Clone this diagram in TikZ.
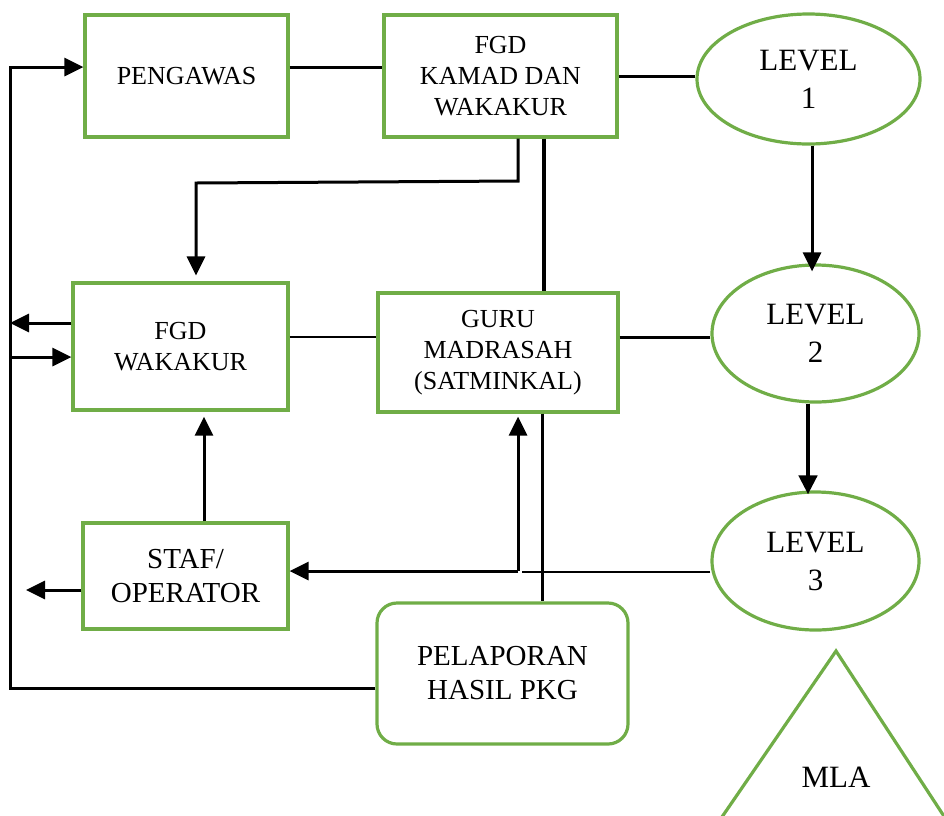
\documentclass[tikz,border=0pt]{standalone}
\usepackage{fontspec}
\setmainfont{Liberation Serif}
\usetikzlibrary{positioning,arrows.meta,shapes.geometric}
\definecolor{leaf}{HTML}{70AD47}
\newcommand{\boxfont}{\fontsize{26}{31}\selectfont}
\newcommand{\bigfont}{\fontsize{29}{34}\selectfont}
\newcommand{\lvfont}{\fontsize{31}{38}\selectfont}

\begin{document}
\begin{tikzpicture}[x=1pt,y=-1pt,
  box/.style={draw=leaf,line width=3.2pt,inner sep=0pt,align=center,font=\boxfont},
  lvl/.style={draw=leaf,line width=3.2pt,ellipse,inner sep=0pt,align=center,font=\lvfont},
  link/.style={line width=3pt},
  thin link/.style={line width=1.4pt},
  heavy link/.style={line width=4.5pt},
  arr/.style={link,-{Triangle[length=19pt,width=18pt]}}]
  \clip (0,0) rectangle (944,815);
  % top row
  \node[box,minimum width=203pt,minimum height=122pt] (peng) at (186.5,76) {PENGAWAS};
  \node[box,minimum width=233pt,minimum height=122pt] (kamad) at (500.5,76) {FGD\\KAMAD DAN\\WAKAKUR};
  \node[lvl,minimum width=223pt,minimum height=130pt] (lv1) at (808.5,79) {LEVEL\\1};
  % middle row
  \node[box,minimum width=215pt,minimum height=127pt] (wakakur) at (180.5,346.5) {FGD\\WAKAKUR};
  \node[box,minimum width=240pt,minimum height=119pt] (guru) at (498,352.5) {GURU\\MADRASAH\\(SATMINKAL)};
  \node[lvl,minimum width=207pt,minimum height=137pt] (lv2) at (815.5,333.5) {LEVEL\\2};
  % bottom
  \node[box,font=\bigfont,minimum width=205pt,minimum height=106pt] (staf) at (185.5,576) {STAF/\\OPERATOR};
  \node[lvl,minimum width=207pt,minimum height=138pt] (lv3) at (815.5,561) {LEVEL\\3};
  \node[box,font=\bigfont,rounded corners=20pt,minimum width=251pt,minimum height=141pt] (lapor) at (502.5,673.5) {PELAPORAN\\HASIL PKG};
  \draw[leaf,line width=3.2pt] (713,830) -- (836,651) -- (953,830);
  \node[font=\lvfont] (mla) at (836,777) {MLA};

  \coordinate (top) at (10,67);
  \coordinate (bot) at (10,688);
  \coordinate (k1) at (518,181);
  \coordinate (k2) at (196,183);
  \coordinate (row2) at (0,337);
  \coordinate (g1) at (518,571);
  \coordinate (out) at (26,590);

  \draw[arr] (lapor.west |- bot) -- (bot) -- (top) -- (peng.west |- top);
  \draw[link] (peng.east |- top) -- (kamad.west |- top);
  \draw[link] (kamad.east) -- (lv1.west |- kamad.east);
  \draw[arr] (kamad.south -| k1) -- (k1) -- (k2) -- ([yshift=6pt]wakakur.north -| k2);
  \draw[heavy link] (kamad.south -| 544,0) -- (guru.north -| 544,0);
  \draw[arr] (lv1.south -| 812,0) -- ([yshift=-8pt]lv2.north -| 812,0);
  \draw[heavy link,-{Triangle[length=19pt,width=18pt]}] (lv2.south -| 808,0) -- ([yshift=-4pt]lv3.north -| 808,0);
  \draw[thin link] (wakakur.east |- row2) -- (guru.west |- row2);
  \draw[link] (guru.east |- row2) -- (lv2.west |- row2);
  \draw[arr] (wakakur.west |- 0,323) -- (top |- 0,323);
  \draw[arr] (top |- 0,357) -- (wakakur.west |- 0,357);
  \draw[arr] (staf.north -| 204,0) -- ([yshift=-5pt]wakakur.south -| 204,0);
  \draw[arr] (staf.west |- out) -- (out);
  \draw[arr] (g1) -- (staf.east |- g1);
  \draw[arr] (g1) -- ([yshift=-3pt]guru.south -| g1);
  \draw[thin link] (lv3.west |- 0,572) -- (522,572);
  \draw[link] (guru.south -| 542,0) -- (lapor.north -| 542,0);
\end{tikzpicture}
\end{document}
